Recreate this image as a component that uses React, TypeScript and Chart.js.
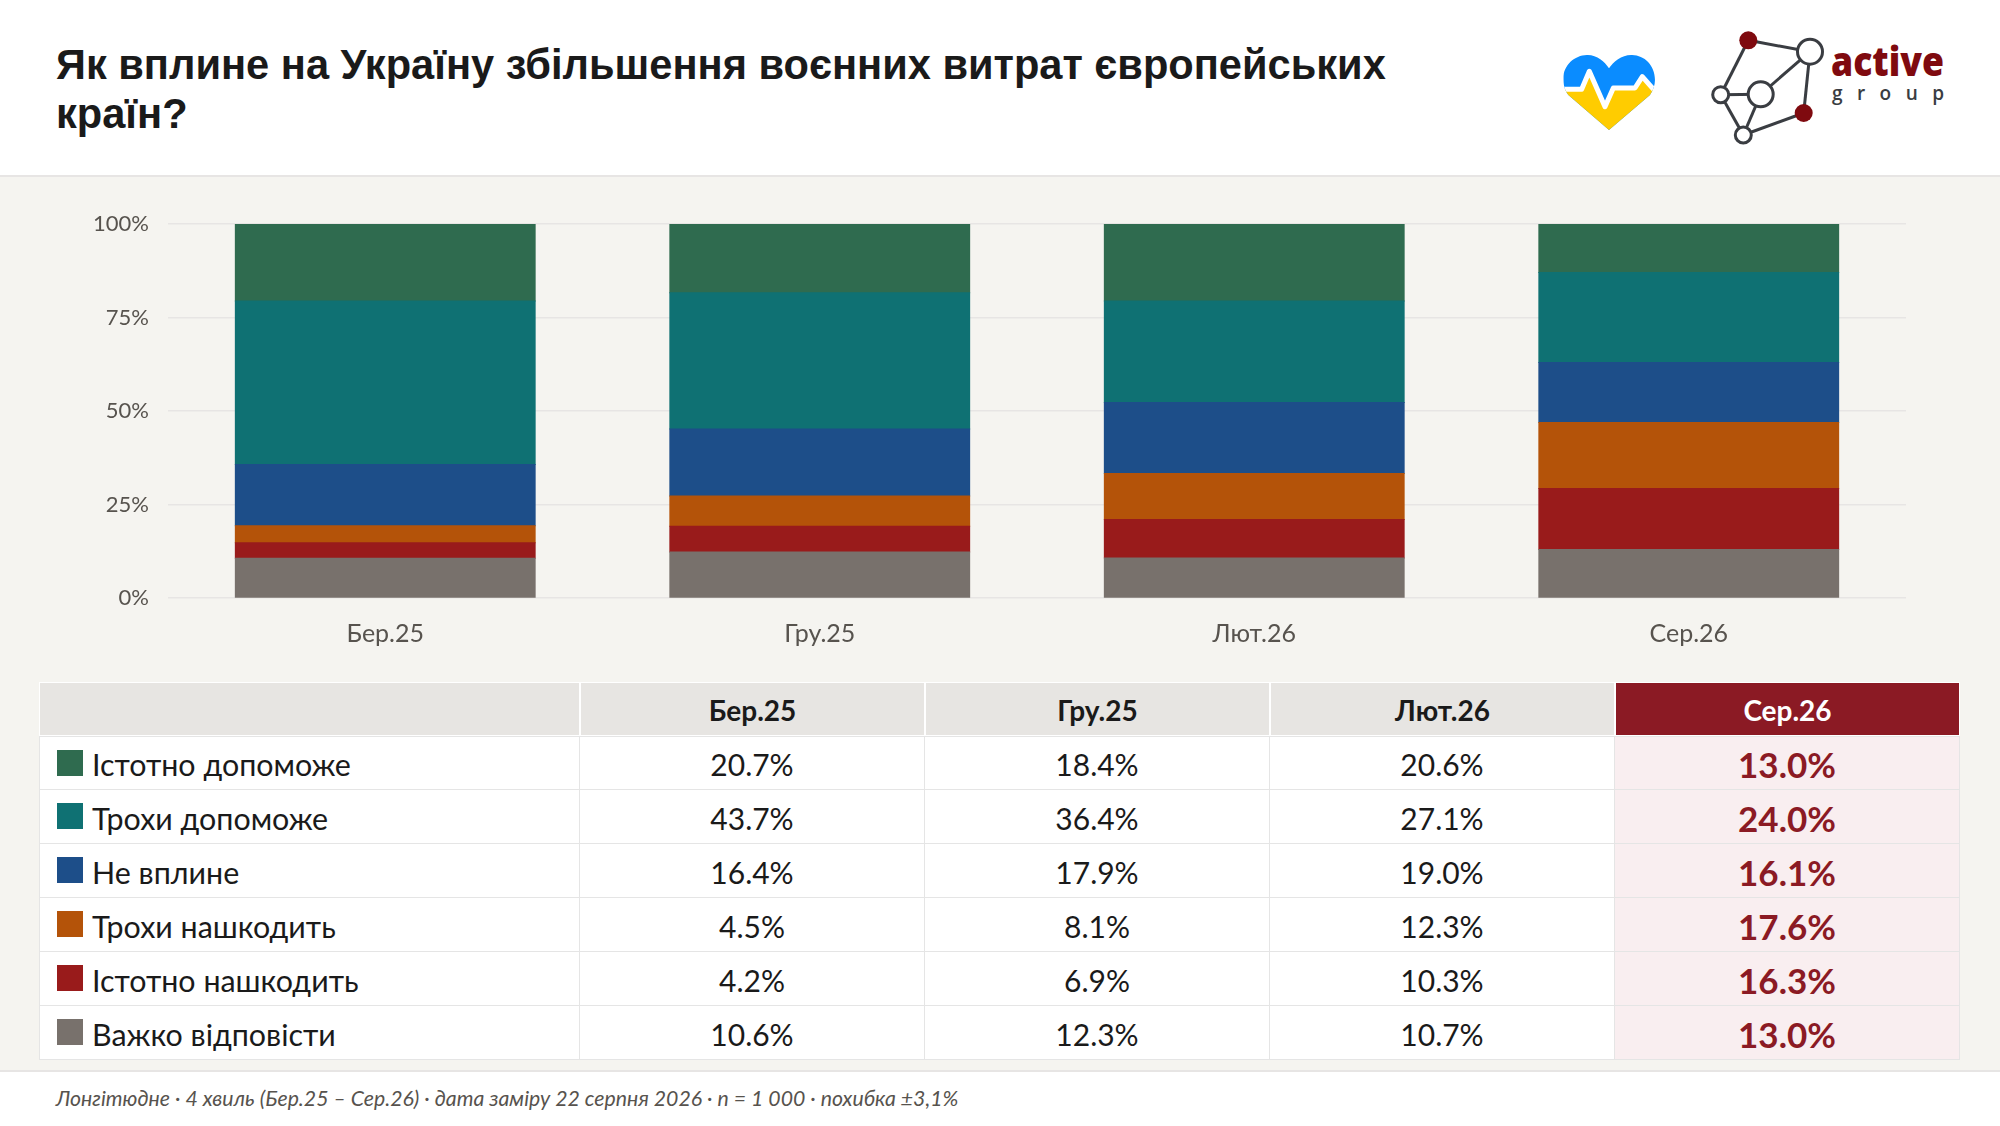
import React, { useEffect, useRef } from "react";
import { Chart, registerables } from "chart.js";

Chart.register(...registerables);

const WAVES = ["Бер.25", "Гру.25", "Лют.26", "Сер.26"];
const LABELS = ["Істотно допоможе", "Трохи допоможе", "Не вплине", "Трохи нашкодить", "Істотно нашкодить", "Важко відповісти"];
const COLORS = ["#2f6b4f", "#0f7173", "#1d4e89", "#b45309", "#991b1b", "#78716c"];
const STRONG_HELP = [20.7, 18.4, 20.6, 13.0];
const SOME_HELP = [43.7, 36.4, 27.1, 24.0];
const NO_EFFECT = [16.4, 17.9, 19.0, 16.1];
const SOME_HARM = [4.5, 8.1, 12.3, 17.6];
const STRONG_HARM = [4.2, 6.9, 10.3, 16.3];
const HARD_TO_SAY = [10.6, 12.3, 10.7, 13.0];
const SERIES = [STRONG_HELP, SOME_HELP, NO_EFFECT, SOME_HARM, STRONG_HARM, HARD_TO_SAY];
const Y_TICKS = [0, 25, 50, 75, 100];

const TITLE = "Як вплине на Україну збільшення воєнних витрат європейських країн?";
const FOOTER = "Лонгітюдне · 4 хвиль (Бер.25 – Сер.26) · дата заміру 22 серпня 2026 · n = 1 000 · похибка ±3,1%";
const FONT = "Lato, Carlito, 'Noto Sans', sans-serif";

function Logos() {
  const nodes: Record<string, [number, number, number, boolean]> = {
    A: [248.3, 40.3, 9, true], B: [310, 51.7, 12.5, false], C: [260.7, 94.3, 12.5, false],
    D: [220.7, 94.7, 8, false], E: [243.3, 135, 8, false], F: [303.7, 113, 9, true],
  };
  const edges = ["AB", "AD", "BC", "BF", "DC", "DE", "CE", "EF"];
  const heart = "M327 390 L205 285 C192 268 190 250 190 235 C190 195 225 165 262 165 C290 165 315 185 327 205 C340 185 365 165 395 165 C432 165 465 195 465 240 C465 255 460 270 450 285 Z";
  return (
    <svg width={500} height={170} style={{ position: "absolute", left: 1500, top: 0 }}>
      <defs><clipPath id="hc"><path d={heart} /></clipPath></defs>
      <g transform="scale(0.3333)">
        <g clipPath="url(#hc)">
          <rect x={180} y={150} width={300} height={250} fill="#0a8cff" />
          <path d="M170 268 L245 268 L268 214 L315 320 L340 264 L405 264 L427 230 L480 290 L480 400 L170 400 Z" fill="#ffcc00" />
          <path d="M170 268 L245 268 L268 214 L315 320 L340 264 L405 264 L427 230 L480 290" fill="none" stroke="#fff" strokeWidth={15} strokeLinejoin="round" />
        </g>
      </g>
      {edges.map((e) => (
        <line key={e} x1={nodes[e[0]][0]} y1={nodes[e[0]][1]} x2={nodes[e[1]][0]} y2={nodes[e[1]][1]} stroke="#3a3d42" strokeWidth={3} />
      ))}
      {Object.entries(nodes).map(([k, [x, y, r, red]]) => (
        <circle key={k} cx={x} cy={y} r={r} fill={red ? "#7f0a0f" : "#fff"} stroke={red ? "none" : "#3a3d42"} strokeWidth={3} />
      ))}
      <text x={331} y={76} textLength={113} lengthAdjust="spacingAndGlyphs" fontFamily="'Open Sans', sans-serif" fontWeight={800} fontSize={40} fill="#7f0a0f">active</text>
      <text x={332} y={100} textLength={112} fontFamily="'Open Sans', sans-serif" fontWeight={600} fontSize={19} fill="#3a3d42">group</text>
    </svg>
  );
}

export default function App() {
  const ref = useRef<HTMLCanvasElement>(null);
  useEffect(() => {
    document.body.style.margin = "0";
    const chart = new Chart(ref.current!, {
      type: "bar",
      data: {
        labels: WAVES,
        datasets: SERIES.map((data, i) => ({
          label: LABELS[i], data, backgroundColor: COLORS[i], borderWidth: 0,
          categoryPercentage: 1, barPercentage: 0.69, inflateAmount: 0.5,
        })).reverse(),
      },
      options: {
        animation: false,
        responsive: false,
        layout: { padding: { left: 68, right: 94, top: 48, bottom: 4 } },
        plugins: { legend: { display: false }, tooltip: { enabled: false } },
        scales: {
          x: {
            stacked: true,
            grid: { display: false },
            border: { display: false },
            ticks: { color: "#57534e", font: { family: FONT, size: 25 }, padding: 13 },
            afterFit: (s: any) => { s.height = 68; },
          },
          y: {
            stacked: true, min: 0, max: 100,
            afterBuildTicks: (s: any) => { s.ticks = Y_TICKS.map((value) => ({ value })); },
            grid: { color: "#e7e5e4", lineWidth: 1.5, drawTicks: false },
            border: { display: false },
            ticks: { color: "#57534e", font: { family: FONT, size: 22 }, padding: 19, callback: (v: any) => `${v}%` },
            afterFit: (s: any) => { s.width = 100; },
          },
        },
      },
    });
    return () => chart.destroy();
  }, []);

  const border = "1.5px solid #e5e5e5";
  const headBorder = "1.5px solid #fff";
  return (
    <div style={{ position: "absolute", left: 0, top: 0, width: 2000, height: 1126, background: "#f5f4f0", overflow: "hidden", fontFamily: FONT }}>
      <div style={{ position: "absolute", left: 0, top: 0, width: 2000, height: 175, background: "#fff", borderBottom: "2px solid #e7e5e4" }} />
      <div style={{ position: "absolute", left: 56, top: 41, width: 1400, fontFamily: "'Liberation Sans', Arial, sans-serif", fontWeight: 700, fontSize: 41.6, lineHeight: "48.5px", color: "#1a1a1a" }}>{TITLE}</div>
      <Logos />
      <canvas ref={ref} width={2000} height={494} style={{ position: "absolute", left: 0, top: 176, width: 2000, height: 494 }} />
      <div style={{ position: "absolute", left: 39, top: 682, width: 1922, display: "grid", gridTemplateColumns: "541px repeat(4, 345px)", gridAutoRows: "54px" }}>
        <div style={{ gridRow: 1, height: 54, background: "#e7e5e2", boxSizing: "border-box", border: headBorder }} />
        {WAVES.map((w, c) => (
          <div key={w} style={{ height: 54, boxSizing: "border-box", border: headBorder, background: c === 3 ? "#8b1a24" : "#e7e5e2", color: c === 3 ? "#fff" : "#1a1a1a", fontWeight: 700, fontSize: 28, display: "flex", alignItems: "center", justifyContent: "center", paddingTop: 2 }}>{w}</div>
        ))}
        {LABELS.map((l, r) => (
          <React.Fragment key={l}>
            <div style={{ boxSizing: "border-box", background: "#fff", borderLeft: border, borderRight: border, borderBottom: border, borderTop: r === 0 ? border : "none", position: "relative", color: "#1a1a1a", fontSize: 30.4, display: "flex", alignItems: "center", paddingLeft: 52, paddingTop: 2 }}>
              <span style={{ position: "absolute", left: 17, top: 13, width: 26, height: 26, background: COLORS[r] }} />
              {l}
            </div>
            {WAVES.map((w, c) => (
              <div key={w} style={{ boxSizing: "border-box", background: c === 3 ? "#f9eef0" : "#fff", borderRight: border, borderBottom: border, borderTop: r === 0 ? border : "none", color: c === 3 ? "#8b1a24" : "#1a1a1a", fontWeight: c === 3 ? 700 : 400, fontSize: c === 3 ? 35 : 30, display: "flex", alignItems: "center", justifyContent: "center", paddingTop: 2 }}>
                {SERIES[r][c].toFixed(1)}%
              </div>
            ))}
          </React.Fragment>
        ))}
      </div>
      <div style={{ position: "absolute", left: 0, top: 1070, width: 2000, height: 56, background: "#fff", borderTop: "2px solid #e7e5e4", boxSizing: "border-box" }} />
      <div style={{ position: "absolute", left: 56, top: 1085, fontStyle: "italic", fontSize: 21.25, lineHeight: "26px", color: "#57534e" }}>{FOOTER}</div>
    </div>
  );
}
